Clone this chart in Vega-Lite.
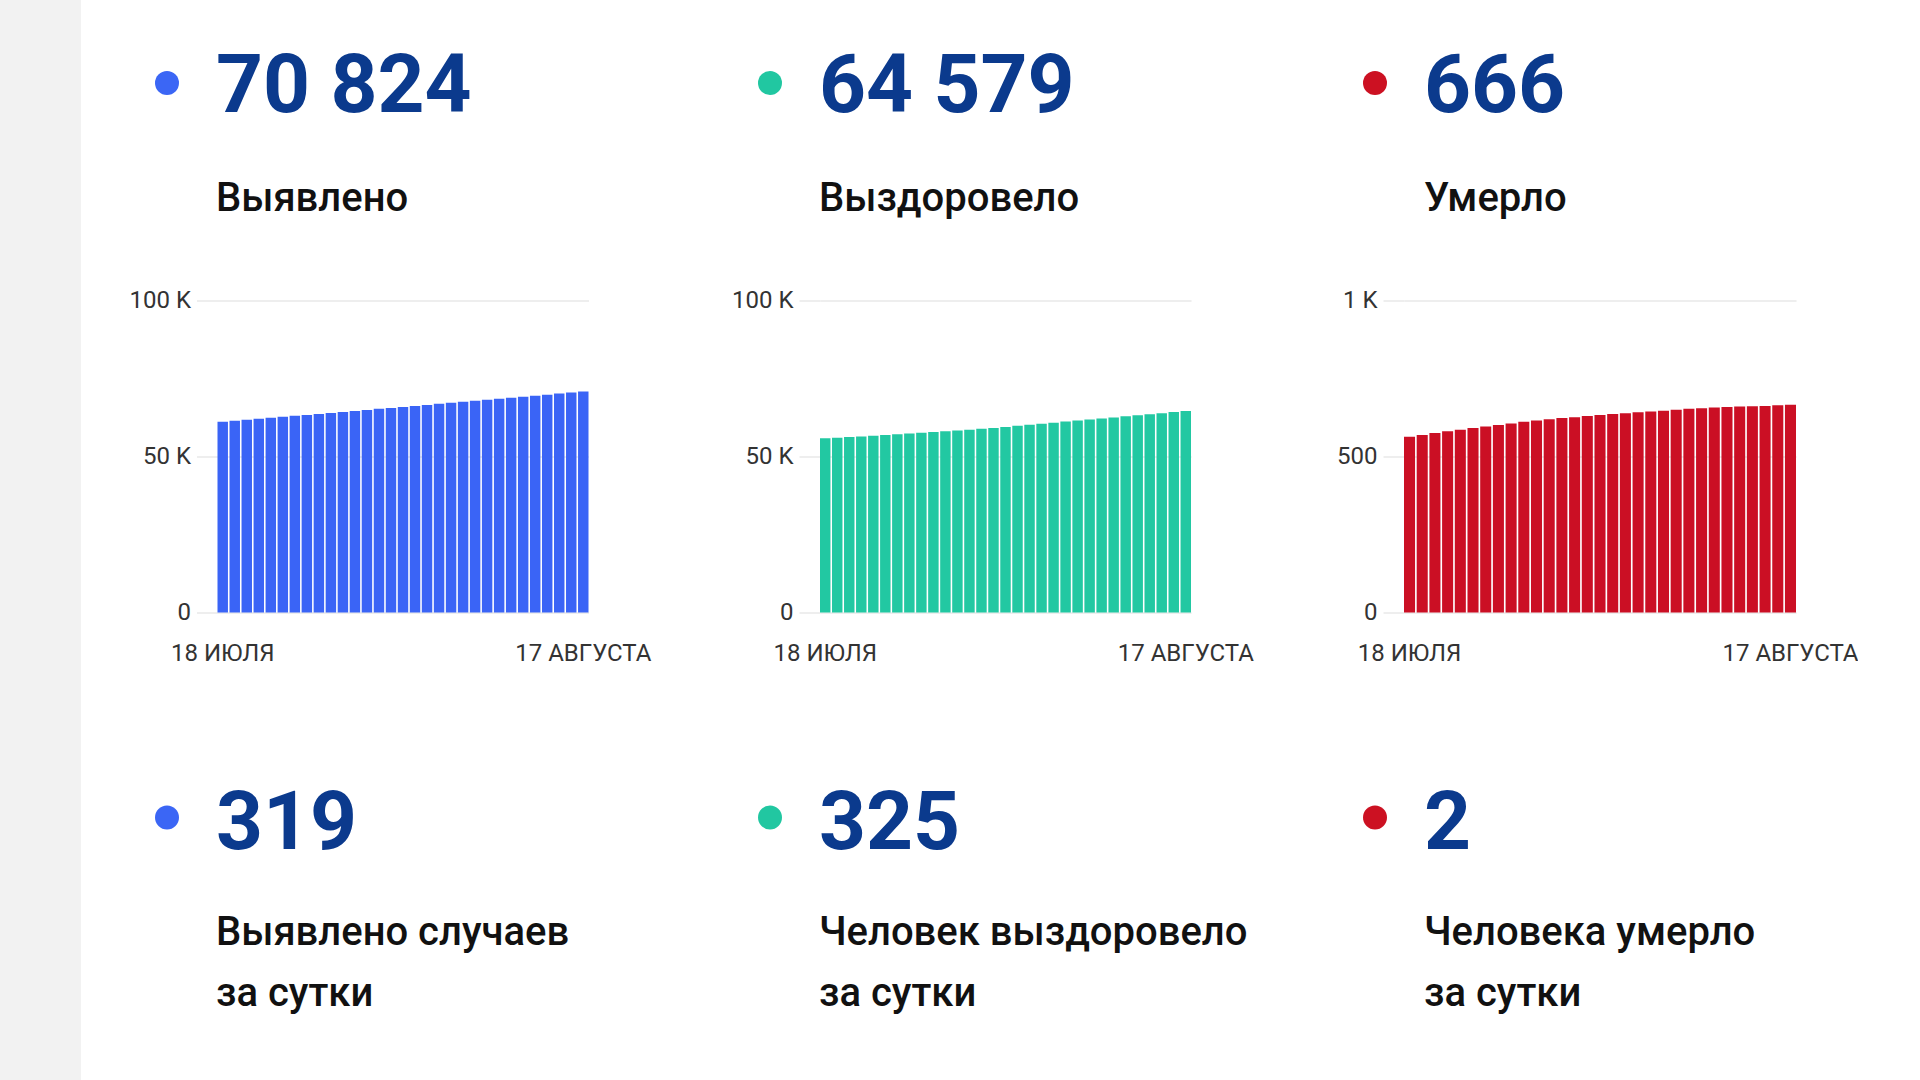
{
  "$schema": "https://vega.github.io/schema/vega-lite/v6.json",
  "padding": 0,
  "background": "white",
  "datasets": {
    "daily": [
      {"date": "18 июля", "cases": 61170, "recovered": 55874, "deaths": 563},
      {"date": "19 июля", "cases": 61460, "recovered": 56024, "deaths": 569},
      {"date": "20 июля", "cases": 61770, "recovered": 56224, "deaths": 575},
      {"date": "21 июля", "cases": 62070, "recovered": 56444, "deaths": 581},
      {"date": "22 июля", "cases": 62390, "recovered": 56674, "deaths": 586},
      {"date": "23 июля", "cases": 62720, "recovered": 56894, "deaths": 591},
      {"date": "24 июля", "cases": 63030, "recovered": 57124, "deaths": 596},
      {"date": "25 июля", "cases": 63330, "recovered": 57364, "deaths": 601},
      {"date": "26 июля", "cases": 63635, "recovered": 57584, "deaths": 606},
      {"date": "27 июля", "cases": 63950, "recovered": 57844, "deaths": 611},
      {"date": "28 июля", "cases": 64270, "recovered": 58094, "deaths": 615},
      {"date": "29 июля", "cases": 64600, "recovered": 58334, "deaths": 619},
      {"date": "30 июля", "cases": 64940, "recovered": 58604, "deaths": 623},
      {"date": "31 июля", "cases": 65265, "recovered": 58874, "deaths": 626},
      {"date": "1 августа", "cases": 65575, "recovered": 59174, "deaths": 630},
      {"date": "2 августа", "cases": 65895, "recovered": 59494, "deaths": 633},
      {"date": "3 августа", "cases": 66210, "recovered": 59834, "deaths": 636},
      {"date": "4 августа", "cases": 66540, "recovered": 60194, "deaths": 639},
      {"date": "5 августа", "cases": 66880, "recovered": 60524, "deaths": 642},
      {"date": "6 августа", "cases": 67215, "recovered": 60844, "deaths": 644},
      {"date": "7 августа", "cases": 67535, "recovered": 61184, "deaths": 647},
      {"date": "8 августа", "cases": 67860, "recovered": 61514, "deaths": 650},
      {"date": "9 августа", "cases": 68190, "recovered": 61834, "deaths": 653},
      {"date": "10 августа", "cases": 68500, "recovered": 62164, "deaths": 655},
      {"date": "11 августа", "cases": 68835, "recovered": 62504, "deaths": 657},
      {"date": "12 августа", "cases": 69175, "recovered": 62874, "deaths": 659},
      {"date": "13 августа", "cases": 69505, "recovered": 63204, "deaths": 660},
      {"date": "14 августа", "cases": 69830, "recovered": 63524, "deaths": 661},
      {"date": "15 августа", "cases": 70160, "recovered": 63864, "deaths": 662},
      {"date": "16 августа", "cases": 70505, "recovered": 64254, "deaths": 664},
      {"date": "17 августа", "cases": 70824, "recovered": 64579, "deaths": 666}
    ],
    "summary": [
      {"metric": "Выявлено", "total": 70824, "day": 319},
      {"metric": "Выздоровело", "total": 64579, "day": 325},
      {"metric": "Умерло", "total": 666, "day": 2}
    ]
  },
  "config": {
    "font": "Roboto",
    "view": {"stroke": null},
    "axis": {
      "labelFont": "Roboto",
      "labelFontSize": 24,
      "labelColor": "#333333",
      "title": null,
      "domain": false
    },
    "title": {
      "font": "Roboto",
      "fontSize": 82,
      "fontWeight": 700,
      "color": "#0b3a8d",
      "subtitleFont": "Roboto",
      "subtitleFontSize": 40,
      "subtitleFontWeight": 500,
      "subtitleColor": "#111111",
      "subtitleLineHeight": 61,
      "orient": "bottom",
      "anchor": "start",
      "frame": "group",
      "offset": 0
    }
  },
  "hconcat": [
    {
      "width": 81,
      "height": 1080,
      "view": {"fill": "#f2f2f2", "stroke": null},
      "data": {"values": []},
      "mark": "point"
    },
    {
      "spacing": 80,
      "hconcat": [
        {
          "spacing": 69.5,
          "vconcat": [
            {
              "width": 24,
              "height": 166,
              "data": {"name": "summary"},
              "transform": [{"filter": "datum.metric == 'Выявлено'"}],
              "mark": {"type": "point", "filled": true, "size": 576, "opacity": 1, "color": "#3b66f5"},
              "encoding": {},
              "title": {"text": "70 824", "subtitle": "Выявлено", "dx": 61, "dy": -123, "subtitlePadding": 49.5}
            },
            {
              "bounds": "flush",
              "spacing": 61.5,
              "hconcat": [
                {"width": 1, "height": 1, "data": {"values": []}, "mark": "point"},
                {
                  "width": 371,
                  "height": 312,
                  "data": {"name": "daily"},
                  "mark": {"type": "bar", "color": "#3a64f6"},
                  "encoding": {
                    "x": {
                      "field": "date", "type": "ordinal", "sort": null,
                      "scale": {"paddingInner": 0.13, "paddingOuter": 0},
                      "axis": {"values": ["18 июля", "17 августа"], "labelExpr": "upper(datum.label)", "ticks": false, "labelPadding": 28.5, "labelAngle": 0, "labelOverlap": false, "labelBound": false, "labelFlush": false}
                    },
                    "y": {
                      "field": "cases", "type": "quantitative",
                      "scale": {"domain": [0, 100000], "nice": false},
                      "axis": {"values": [0, 50000, 100000], "labelExpr": "datum.value >= 1000 ? format(datum.value / 1000, 'd') + ' K' : format(datum.value, 'd')", "tickColor": "#e8e8e8", "tickSize": 21, "tickWidth": 1.5, "gridColor": "#e8e8e8", "gridWidth": 1.5, "labelPadding": 6}
                    }
                  }
                }
              ]
            },
            {
              "width": 24,
              "height": 165,
              "data": {"name": "summary"},
              "transform": [{"filter": "datum.metric == 'Выявлено'"}],
              "mark": {"type": "point", "filled": true, "size": 576, "opacity": 1, "color": "#3b66f5"},
              "encoding": {},
              "title": {"text": "319", "subtitle": ["Выявлено случаев", "за сутки"], "dx": 61, "dy": -120.5, "subtitlePadding": 47}
            }
          ]
        },
        {
          "spacing": 82,
          "hconcat": [
            {
              "spacing": 69.5,
              "vconcat": [
                {
                  "width": 24,
                  "height": 166,
                  "data": {"name": "summary"},
                  "transform": [{"filter": "datum.metric == 'Выздоровело'"}],
                  "mark": {"type": "point", "filled": true, "size": 576, "opacity": 1, "color": "#21c7a1"},
                  "encoding": {},
                  "title": {"text": "64 579", "subtitle": "Выздоровело", "dx": 61, "dy": -123, "subtitlePadding": 49.5}
                },
                {
                  "bounds": "flush",
                  "spacing": 61,
                  "hconcat": [
                    {"width": 1, "height": 1, "data": {"values": []}, "mark": "point"},
                    {
                      "width": 371,
                      "height": 312,
                      "data": {"name": "daily"},
                      "mark": {"type": "bar", "color": "#22c8a2"},
                      "encoding": {
                        "x": {
                          "field": "date", "type": "ordinal", "sort": null,
                          "scale": {"paddingInner": 0.13, "paddingOuter": 0},
                          "axis": {"values": ["18 июля", "17 августа"], "labelExpr": "upper(datum.label)", "ticks": false, "labelPadding": 28.5, "labelAngle": 0, "labelOverlap": false, "labelBound": false, "labelFlush": false}
                        },
                        "y": {
                          "field": "recovered", "type": "quantitative",
                          "scale": {"domain": [0, 100000], "nice": false},
                          "axis": {"values": [0, 50000, 100000], "labelExpr": "datum.value >= 1000 ? format(datum.value / 1000, 'd') + ' K' : format(datum.value, 'd')", "tickColor": "#e8e8e8", "tickSize": 21, "tickWidth": 1.5, "gridColor": "#e8e8e8", "gridWidth": 1.5, "labelPadding": 6}
                        }
                      }
                    }
                  ]
                },
                {
                  "width": 24,
                  "height": 165,
                  "data": {"name": "summary"},
                  "transform": [{"filter": "datum.metric == 'Выздоровело'"}],
                  "mark": {"type": "point", "filled": true, "size": 576, "opacity": 1, "color": "#21c7a1"},
                  "encoding": {},
                  "title": {"text": "325", "subtitle": ["Человек выздоровело", "за сутки"], "dx": 61, "dy": -120.5, "subtitlePadding": 47}
                }
              ]
            },
            {
              "spacing": 69.5,
              "vconcat": [
                {
                  "width": 24,
                  "height": 166,
                  "data": {"name": "summary"},
                  "transform": [{"filter": "datum.metric == 'Умерло'"}],
                  "mark": {"type": "point", "filled": true, "size": 576, "opacity": 1, "color": "#cc1122"},
                  "encoding": {},
                  "title": {"text": "666", "subtitle": "Умерло", "dx": 61, "dy": -123, "subtitlePadding": 49.5}
                },
                {
                  "bounds": "flush",
                  "spacing": 40,
                  "hconcat": [
                    {"width": 1, "height": 1, "data": {"values": []}, "mark": "point"},
                    {
                      "width": 392,
                      "height": 312,
                      "data": {"name": "daily"},
                      "mark": {"type": "bar", "color": "#cb0f24"},
                      "encoding": {
                        "x": {
                          "field": "date", "type": "ordinal", "sort": null,
                          "scale": {"paddingInner": 0.13, "paddingOuter": 0},
                          "axis": {"values": ["18 июля", "17 августа"], "labelExpr": "upper(datum.label)", "ticks": false, "labelPadding": 28.5, "labelAngle": 0, "labelOverlap": false, "labelBound": false, "labelFlush": false}
                        },
                        "y": {
                          "field": "deaths", "type": "quantitative",
                          "scale": {"domain": [0, 1000], "nice": false},
                          "axis": {"values": [0, 500, 1000], "labelExpr": "datum.value >= 1000 ? format(datum.value / 1000, 'd') + ' K' : format(datum.value, 'd')", "tickColor": "#e8e8e8", "tickSize": 21, "tickWidth": 1.5, "gridColor": "#e8e8e8", "gridWidth": 1.5, "labelPadding": 6}
                        }
                      }
                    }
                  ]
                },
                {
                  "width": 24,
                  "height": 165,
                  "data": {"name": "summary"},
                  "transform": [{"filter": "datum.metric == 'Умерло'"}],
                  "mark": {"type": "point", "filled": true, "size": 576, "opacity": 1, "color": "#cc1122"},
                  "encoding": {},
                  "title": {"text": "2", "subtitle": ["Человека умерло", "за сутки"], "dx": 61, "dy": -120.5, "subtitlePadding": 47}
                }
              ]
            }
          ]
        }
      ]
    }
  ],
  "spacing": 48
}
